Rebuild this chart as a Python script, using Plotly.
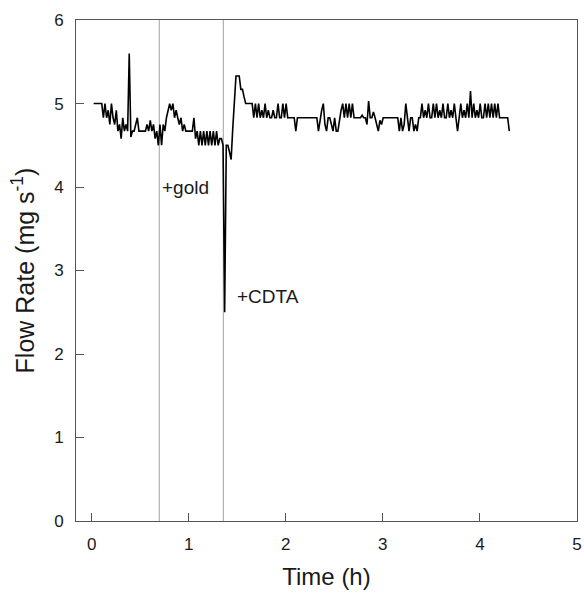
import plotly.graph_objects as go

# sampling: one reading per minute starting at 0.02 h
start_h = 0.02
step_h = 1 / 60

flow_rate = [
    5.0, 5.0, 5.0, 5.0, 5.0, 5.0,
    4.83, 5.0, 4.83, 4.92, 4.75, 5.0, 4.83,
    4.75, 4.92, 4.67, 4.75, 4.58, 4.83, 4.67,
    4.75, 4.67, 5.6, 4.6, 4.67,
    4.67, 4.75, 4.83, 4.67, 4.67, 4.67, 4.67, 4.67, 4.75, 4.67,
    4.8, 4.67, 4.75, 4.58, 4.67, 4.5, 4.75, 4.5, 4.75, 4.67,
    4.83, 4.92, 5.0, 4.92, 5.0, 4.83, 4.92, 4.83, 4.75, 4.83,
    4.67, 4.75, 4.67, 4.67, 4.67, 4.67, 4.67, 4.83, 4.58, 4.67,
    4.5, 4.67, 4.5, 4.67, 4.5, 4.67, 4.5, 4.67, 4.5, 4.67,
    4.5, 4.67, 4.5, 4.58, 4.58, 4.5, 2.5, 4.5, 4.5, 4.42,
    4.33, 4.7, 5.1, 5.33, 5.33, 5.33, 5.17, 5.17, 5.08, 5.0,
    5.0, 5.0, 5.0, 5.0, 4.83, 5.0, 4.83, 5.0, 4.83, 4.92,
    4.83, 5.0, 4.83, 4.92, 4.83, 4.83, 4.92, 4.83, 4.83, 5.0,
    4.83, 4.83, 5.0, 4.83, 5.0, 4.83, 4.83, 4.83, 4.83, 4.83,
    4.67, 4.83, 4.83, 4.83, 4.83, 4.83, 4.83, 4.83, 4.83, 4.83,
    4.83, 4.83, 4.83, 4.83, 4.67, 4.83, 4.92, 5.0, 4.75, 4.67,
    4.83, 4.83, 4.75, 4.67, 4.83, 4.67, 4.67, 4.83, 4.92, 5.0,
    4.83, 5.0, 4.83, 5.0, 4.83, 5.0, 4.83, 4.83, 4.83, 4.83,
    4.83, 4.86, 4.83, 4.83, 4.75, 5.03, 4.83, 4.83, 4.9, 4.83,
    4.75, 4.67, 4.8, 4.75, 4.83, 4.83, 4.83, 4.83, 4.83, 4.83,
    4.83, 4.83, 4.83, 4.83, 4.67, 4.83, 4.67, 4.75, 5.0, 4.83,
    4.67, 4.83, 4.83, 4.67, 4.75, 4.67, 4.83, 4.83, 5.0, 4.83,
    4.92, 4.83, 5.0, 4.83, 4.83, 5.0, 4.83, 5.0, 4.83, 4.92,
    4.83, 5.0, 4.83, 4.83, 5.0, 4.83, 4.92, 4.83, 5.0, 4.83,
    4.67, 4.83, 5.0, 4.83, 4.92, 4.83, 5.0, 4.83, 5.15, 4.83,
    5.0, 4.83, 4.92, 4.83, 5.0, 4.83, 4.83, 5.0, 4.83, 5.0,
    4.83, 5.0, 4.83, 5.0, 4.83, 5.0, 4.83, 4.83, 4.83, 4.83,
    4.83, 4.83, 4.67,
]
time_h = [start_h + i * step_h for i in range(len(flow_rate))]

event_times = [0.696, 1.356]
event_labels = ["+gold", "+CDTA"]
event_label_x = [0.705, 1.48]
event_label_y = [4.0, 2.69]

x_ticks = [0, 1, 2, 3, 4, 5]
y_ticks = [0, 1, 2, 3, 4, 5, 6]

FONT = "Liberation Sans, Arial, sans-serif"
TXT = "#1a1a1a"

fig = go.Figure()
fig.add_trace(go.Scatter(
    x=time_h, y=flow_rate, mode="lines",
    line=dict(color="black", width=1.6), showlegend=False,
))

for t in event_times:
    fig.add_shape(type="line", xref="x", yref="paper", x0=t, x1=t, y0=0, y1=1,
                  line=dict(color="#a0a0a0", width=1), layer="below")

for lab, lx, ly in zip(event_labels, event_label_x, event_label_y):
    fig.add_annotation(x=lx, y=ly, text=lab, showarrow=False, xanchor="left",
                       yanchor="middle", font=dict(family=FONT, size=19, color=TXT))

axis_common = dict(
    showgrid=False, zeroline=False, showline=True, linecolor="#555", linewidth=1,
    mirror=True, ticks="inside", ticklen=8, tickcolor="#555", tickwidth=1,
    tickfont=dict(family=FONT, size=17, color=TXT), automargin=False,
)

fig.update_xaxes(range=[-0.162, 5.001], tickvals=x_ticks, ticklabelstandoff=8,
                 title=dict(text="Time (h)", font=dict(family=FONT, size=24, color=TXT),
                            standoff=14),
                 **axis_common)
fig.update_yaxes(range=[0, 6.001], tickvals=y_ticks, ticklabelstandoff=8,
                 title=dict(text="Flow Rate (mg s<sup>-1</sup>)",
                            font=dict(family=FONT, size=25, color=TXT), standoff=12),
                 **axis_common)

fig.update_layout(
    width=584, height=594,
    margin=dict(l=76, r=7, t=20, b=73),
    paper_bgcolor="white", plot_bgcolor="white",
    font=dict(family=FONT),
)

fig.write_html("out.html", config={"displayModeBar": False},
               post_script="document.body.style.margin='0px';document.body.style.overflow='hidden';")
